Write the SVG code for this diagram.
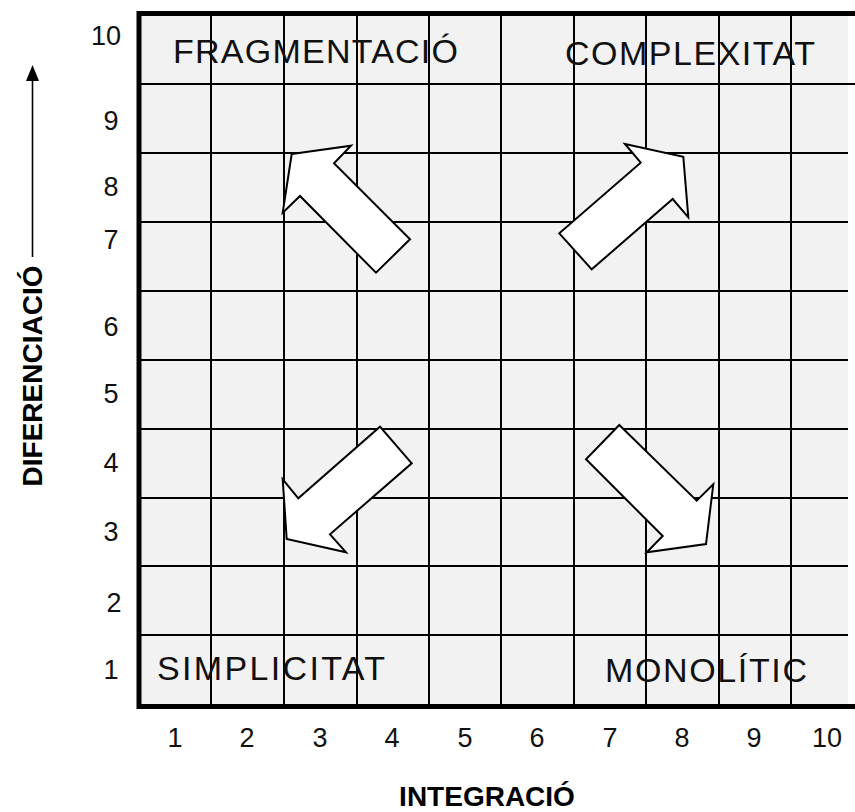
<svg xmlns="http://www.w3.org/2000/svg" width="855" height="812" viewBox="0 0 855 812">
<style>
.g{stroke:#000;stroke-width:2;fill:none}
.b{stroke:#000;stroke-width:5;fill:none}
.n{font-family:"Liberation Sans",Arial,sans-serif;font-size:27px;fill:#111;text-anchor:middle}
.q{font-family:"Liberation Sans",Arial,sans-serif;font-size:34px;fill:#111}
.t{font-family:"Liberation Sans",Arial,sans-serif;font-size:28px;font-weight:bold;fill:#000;text-anchor:middle}
.ar{fill:#fff;stroke:#000;stroke-width:2;stroke-linejoin:miter}
</style>
<rect width="855" height="812" fill="#fff"/>
<g id="grid">
<rect x="139" y="13" width="709" height="693" fill="#f2f2f2"/>
<path class="g" d="M211,13V706M284,13V706M357,13V706M429,13V706M501,13V706M574,13V706M646,13V706M719,13V706M791,13V706"/>
<path class="g" d="M139,84H855M139,153H848M139,222H848M139,291H848M139,360H848M139,429H848M139,498H848M139,566H848M139,635H848"/>
<path class="b" d="M139,11V709M136.5,13.5H855M136.5,706.5H855"/>
</g>
<g id="quadrant-labels">
<text class="q" x="173" y="63" textLength="285" lengthAdjust="spacing">FRAGMENTACIÓ</text>
<text class="q" x="565" y="65" textLength="250" lengthAdjust="spacing">COMPLEXITAT</text>
<text class="q" x="157" y="680" textLength="228" lengthAdjust="spacing">SIMPLICITAT</text>
<text class="q" x="605" y="682" textLength="202" lengthAdjust="spacing">MONOLÍTIC</text>
</g>
<g id="y-ticks">
<text class="n" x="106" y="45">10</text>
<text class="n" x="111" y="130">9</text>
<text class="n" x="111" y="196">8</text>
<text class="n" x="111" y="249">7</text>
<text class="n" x="111" y="336">6</text>
<text class="n" x="111" y="403">5</text>
<text class="n" x="111" y="472">4</text>
<text class="n" x="111" y="541">3</text>
<text class="n" x="114" y="612">2</text>
<text class="n" x="111" y="679">1</text>
</g>
<g id="x-ticks">
<text class="n" x="175" y="747">1</text>
<text class="n" x="247" y="747">2</text>
<text class="n" x="320" y="747">3</text>
<text class="n" x="392" y="747">4</text>
<text class="n" x="465" y="747">5</text>
<text class="n" x="537" y="747">6</text>
<text class="n" x="610" y="747">7</text>
<text class="n" x="682" y="747">8</text>
<text class="n" x="754" y="747">9</text>
<text class="n" x="827" y="747">10</text>
</g>
<g id="axis-titles">
<text class="t" x="487" y="806">INTEGRACIÓ</text>
<text class="t" transform="translate(42,376) rotate(-90)" x="0" y="0">DIFERENCIACIÓ</text>
<path d="M32.5,257V78" stroke="#000" stroke-width="1.6" fill="none"/>
<polygon points="32.5,65 26,81 39,81" fill="#000"/>
</g>
<g id="arrows">
<polygon id="arrow-fragmentacio" class="ar" points="291.7,154 351,145.7 334,163.3 410,239.3 376,272.7 300,196 282.7,212.7"/>
<polygon id="arrow-complexitat" class="ar" points="625,144 683.3,156.7 688.3,217.3 672.7,199 591.7,269.3 559.3,233.3 640.7,162.7"/>
<polygon id="arrow-simplicitat" class="ar" points="380,426.7 411.7,463.3 330,534.3 346,552.3 286.7,539 282.7,479.3 298.3,498.3"/>
<polygon id="arrow-monolitic" class="ar" points="619.3,425 696.7,500.7 713.3,484.3 706,544 646.7,552.3 662.7,536 586,459.3"/>
</g>
</svg>
